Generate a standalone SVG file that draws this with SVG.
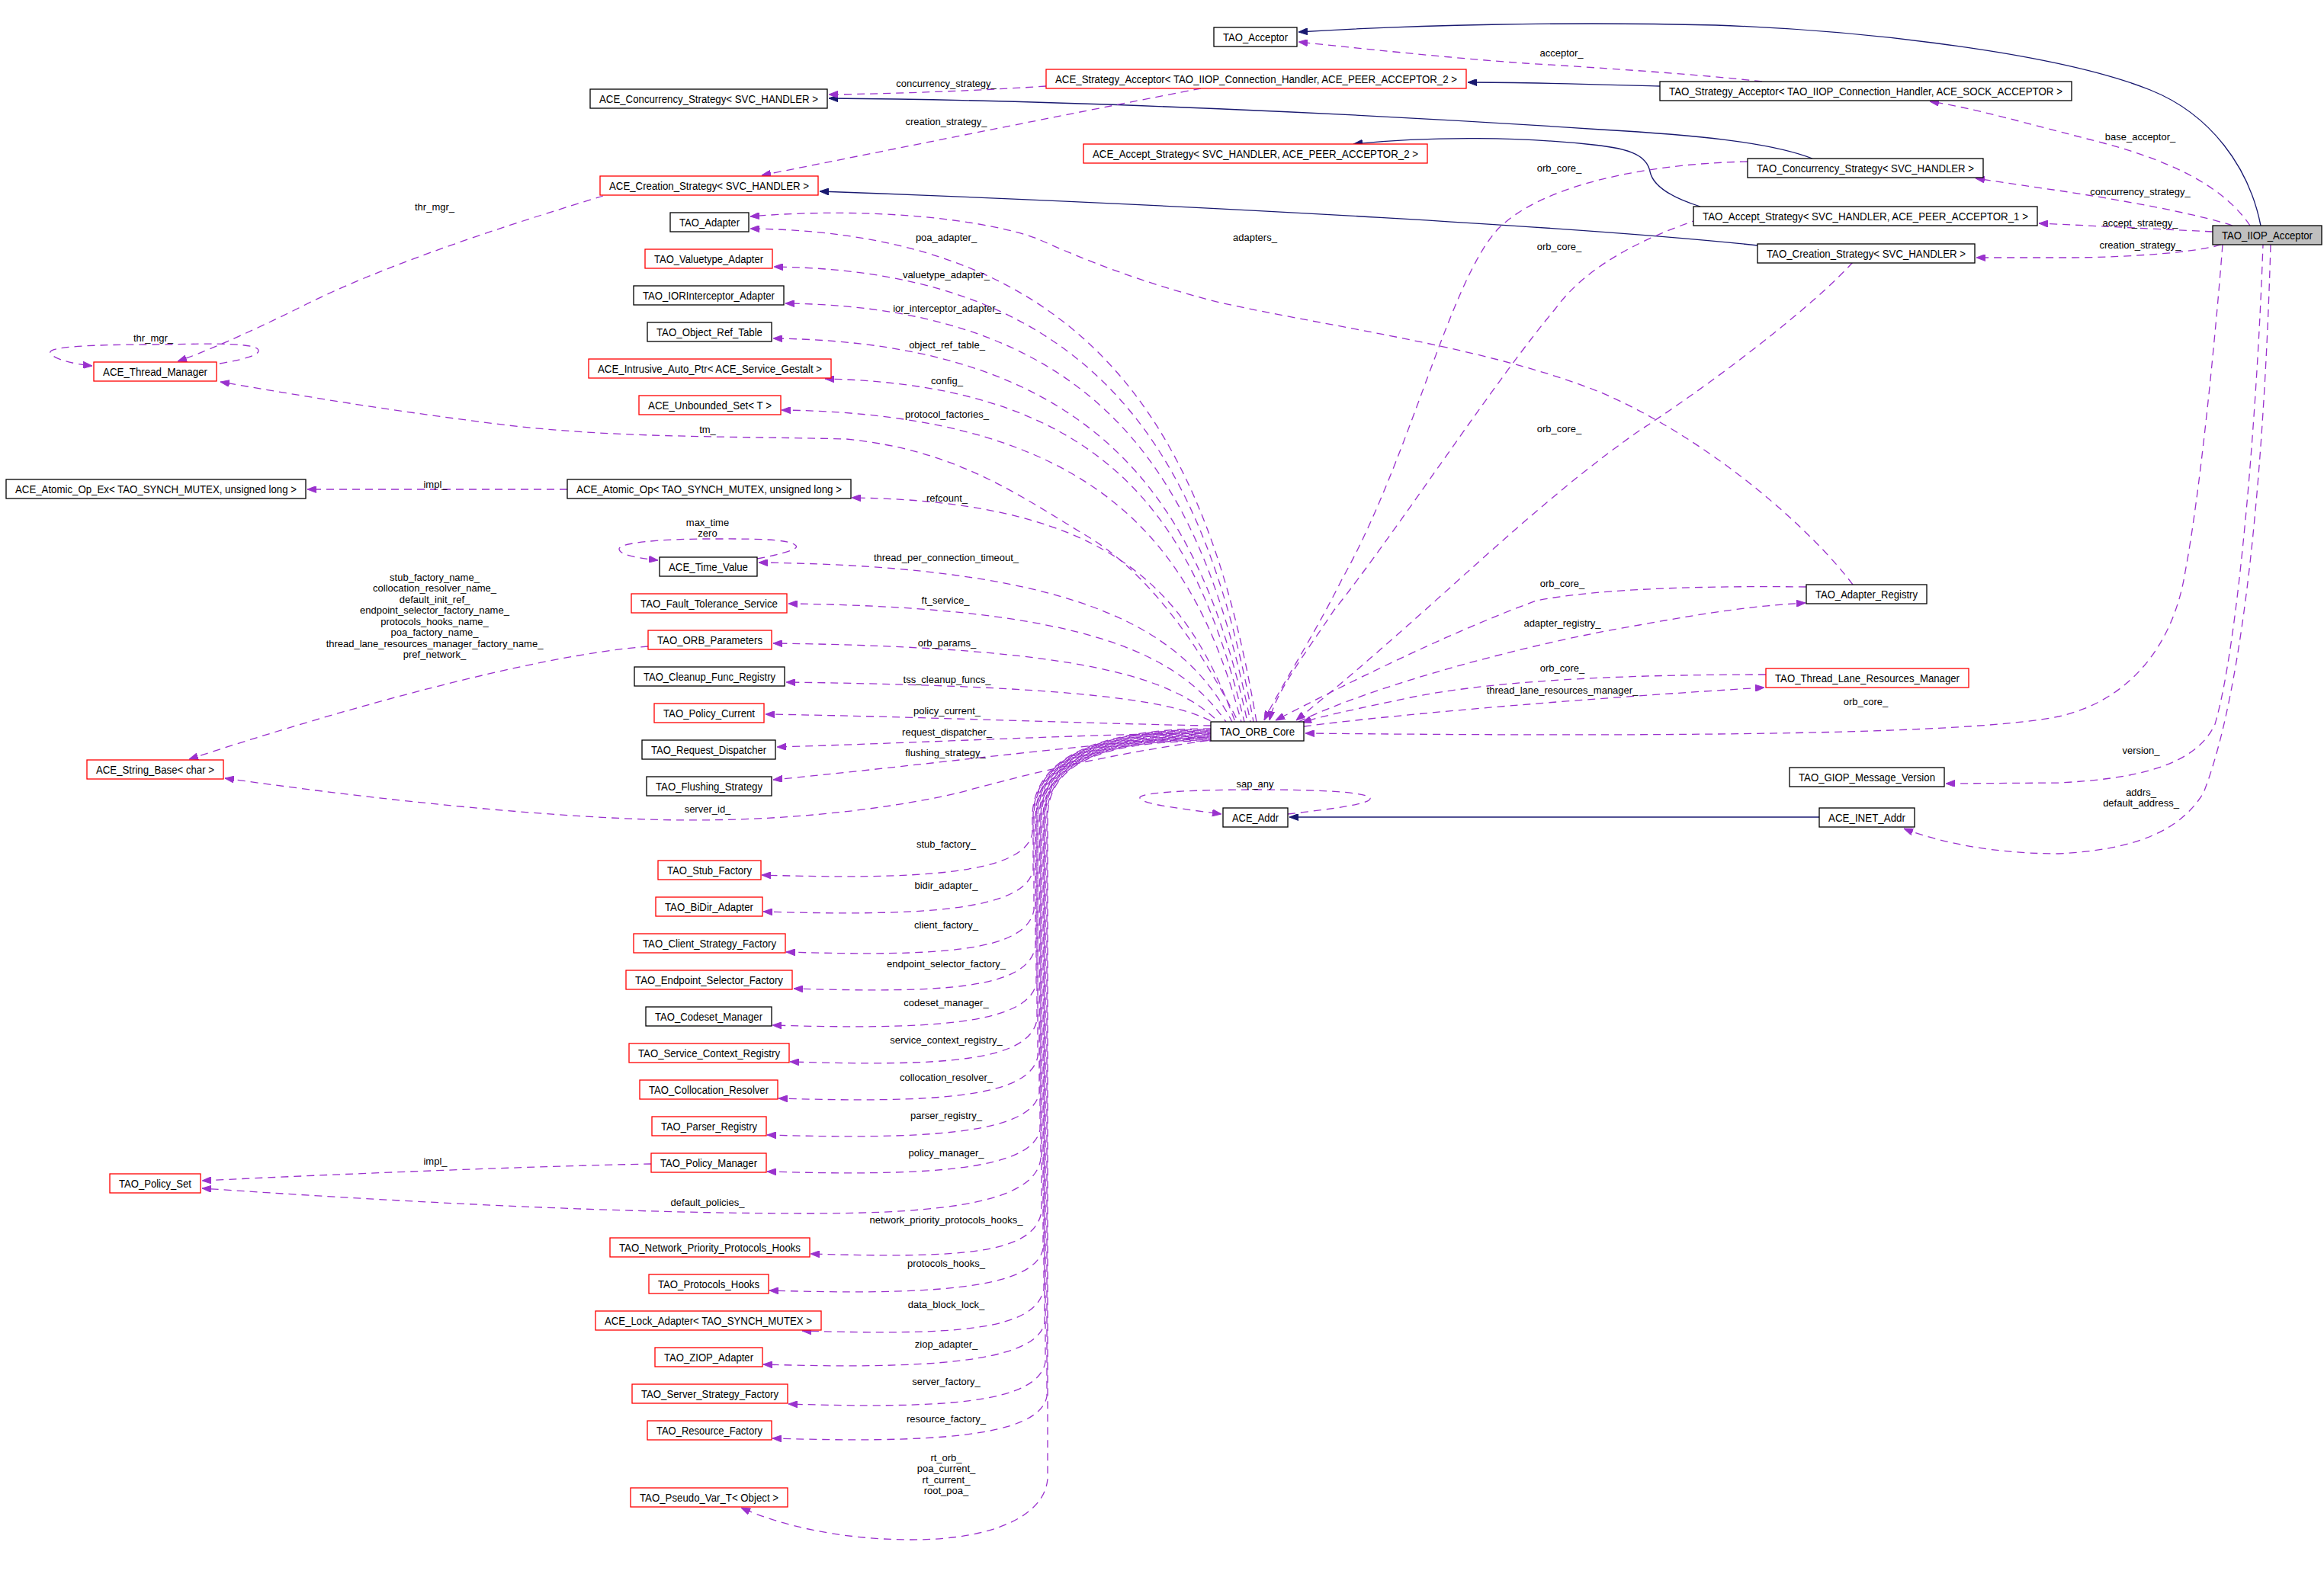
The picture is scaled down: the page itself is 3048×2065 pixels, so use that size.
<svg xmlns="http://www.w3.org/2000/svg" width="3048" height="2065" viewBox="0 0 3048 2065">
<style>
.bg{fill:#ffffff}
.nd rect{fill:#ffffff;stroke:#000000;stroke-width:1.3}
.nd.r rect{stroke:#ff0000}
.nd.g rect{fill:#bfbfbf}
.nd text{font-family:"Liberation Sans",Arial,sans-serif;font-size:14px;fill:#000000;text-anchor:middle}
.u{fill:none;stroke:#9a32cd;stroke-width:1.3;stroke-dasharray:10,7;marker-end:url(#ap)}
.h{fill:none;stroke:#191970;stroke-width:1.3;marker-end:url(#an)}
.l{font-family:"Liberation Sans",Arial,sans-serif;font-size:13px;fill:#000000;text-anchor:middle}
</style>
<defs>
<marker id="ap" markerUnits="userSpaceOnUse" markerWidth="12" markerHeight="9" refX="12" refY="4.5" orient="auto"><path d="M0,0 L12,4.5 L0,9 z" fill="#9a32cd" stroke="#9a32cd" stroke-width="1"/></marker>
<marker id="an" markerUnits="userSpaceOnUse" markerWidth="12" markerHeight="9" refX="12" refY="4.5" orient="auto"><path d="M0,0 L12,4.5 L0,9 z" fill="#191970" stroke="#191970" stroke-width="1"/></marker>
</defs>
<rect class="bg" x="0" y="0" width="3048" height="2065"/>
<g id="edges">
<path class="h" d="M2965,296 C2950,220 2900,150 2820,118 C2700,70 2450,40 2250,33 C2050,28 1850,33 1703,42"/>
<path class="h" d="M2177,113 C2100,111 2000,108 1925,108"/>
<path class="h" d="M2377,208 C2320,186 2220,177 2100,170 C1800,150 1400,131 1087,129"/>
<path class="h" d="M2230,271 C2195,260 2168,245 2164,225 C2160,205 2140,195 2090,190 C2000,180 1880,178 1775,189"/>
<path class="h" d="M2305,322 C2100,300 1600,270 1075,251"/>
<path class="h" d="M2386,1072 L1691,1072"/>
<path class="u" d="M2311,107 C2250,100 2150,92 2000,83 C1900,76 1780,63 1703,55"/>
<text class="l" x="2048" y="73.5">acceptor_</text>
<path class="u" d="M1372,113 C1300,118 1180,123 1087,124"/>
<text class="l" x="1241" y="113.5">concurrency_strategy_</text>
<path class="u" d="M1575,116 C1450,140 1200,190 999,230"/>
<text class="l" x="1241" y="163.5">creation_strategy_</text>
<path class="u" d="M2951,296 C2920,250 2860,215 2760,188 C2650,160 2590,142 2531,133"/>
<text class="l" x="2807" y="183.5">base_acceptor_</text>
<path class="u" d="M2928,296 C2880,280 2780,262 2700,250 C2650,243 2620,238 2591,234"/>
<text class="l" x="2807" y="255.5">concurrency_strategy_</text>
<path class="u" d="M2902,304 C2820,300 2740,296 2674,293"/>
<text class="l" x="2807" y="296.5">accept_strategy_</text>
<path class="u" d="M2913,321 C2880,331 2800,337 2720,338 L2592,338"/>
<text class="l" x="2807" y="325.5">creation_strategy_</text>
<path class="u" d="M2915,321 C2905,450 2885,650 2866,750 C2850,850 2790,920 2700,940 C2600,960 2300,968 1712,962"/>
<text class="l" x="2447" y="924.5">orb_core_</text>
<path class="u" d="M2968,321 C2960,550 2935,850 2905,950 C2880,1005 2800,1022 2700,1027 L2552,1028" style="stroke-dashoffset:5"/>
<text class="l" x="2808" y="988.5">version_</text>
<path class="u" d="M2978,321 C2970,600 2945,900 2890,1040 C2860,1090 2800,1115 2700,1120 C2600,1120 2530,1100 2497,1087"/>
<text class="l" x="2808" y="1043.5">addrs_</text>
<text class="l" x="2808" y="1057.5">default_address_</text>
<path class="u" d="M2292,212 C2150,215 2020,245 1965,300 C1900,370 1850,600 1760,760 C1720,840 1680,900 1658,945"/>
<text class="l" x="2045" y="224.5">orb_core_</text>
<path class="u" d="M2221,290 C2150,315 2080,350 2040,405 C1960,500 1830,700 1750,800 C1710,860 1672,910 1665,945" style="stroke-dashoffset:8"/>
<text class="l" x="2045" y="327.5">orb_core_</text>
<path class="u" d="M2430,344 C2380,400 2250,500 2150,565 C2000,670 1880,800 1700,945"/>
<text class="l" x="2045" y="566.5">orb_core_</text>
<path class="u" d="M2430,767 C2380,700 2250,580 2100,515 C1950,455 1750,430 1600,397 C1500,372 1420,340 1360,313 C1300,290 1150,270 984,284"/>
<text class="l" x="1646" y="315.5">adapters_</text>
<path class="u" d="M2369,770 C2200,768 2080,775 2015,788 C1900,830 1760,900 1673,945"/>
<text class="l" x="2049" y="769.5">orb_core_</text>
<path class="u" d="M1703,947 C1800,900 2000,845 2150,820 C2250,802 2300,795 2368,791"/>
<text class="l" x="2049" y="821.5">adapter_registry_</text>
<path class="u" d="M2316,885 C2100,885 1950,895 1850,915 C1780,930 1730,940 1708,948"/>
<text class="l" x="2049" y="880.5">orb_core_</text>
<path class="u" d="M1710,953 C1850,935 2100,915 2314,902"/>
<text class="l" x="2049" y="909.5">thread_lane_resources_manager_</text>
<path class="u" d="M791,257 C700,285 520,340 400,400 C320,440 260,465 233,474"/>
<text class="l" x="570" y="275.5">thr_mgr_</text>
<path class="u" d="M288,477 C330,470 345,463 337,457 C320,448 250,452 200,452 C120,452 62,455 66,463 C70,472 100,478 121,480"/>
<text class="l" x="201" y="448">thr_mgr_</text>
<path class="u" d="M744,642 L403,642"/>
<text class="l" x="571" y="639.5">impl_</text>
<path class="u" d="M993,733 C1030,726 1048,720 1044,716 C1035,706 980,707 928,707 C870,707 812,712 812,720 C812,728 835,732 863,735"/>
<text class="l" x="928" y="689.5">max_time</text>
<text class="l" x="928" y="703.5">zero</text>
<path class="u" d="M850,848 C700,860 450,930 248,996"/>
<text class="l" x="570" y="761.5">stub_factory_name_</text>
<text class="l" x="570" y="776">collocation_resolver_name_</text>
<text class="l" x="570" y="790.5">default_init_ref_</text>
<text class="l" x="570" y="805">endpoint_selector_factory_name_</text>
<text class="l" x="570" y="819.5">protocols_hooks_name_</text>
<text class="l" x="570" y="834">poa_factory_name_</text>
<text class="l" x="570" y="848.5">thread_lane_resources_manager_factory_name_</text>
<text class="l" x="570" y="863">pref_network_</text>
<path class="u" d="M1648,947 C1588,591 1449,305 984,300"/>
<text class="l" x="1241" y="316">poa_adapter_</text>
<path class="u" d="M1644,947 C1584,619 1455,355 1015,350" style="stroke-dashoffset:4"/>
<text class="l" x="1241" y="364.5">valuetype_adapter_</text>
<path class="u" d="M1640,947 C1580,645 1457,403 1030,398" style="stroke-dashoffset:8"/>
<text class="l" x="1242" y="408.5">ior_interceptor_adapter_</text>
<path class="u" d="M1636,947 C1576,670 1449,449 1014,444" style="stroke-dashoffset:12"/>
<text class="l" x="1242" y="456.5">object_ref_table_</text>
<path class="u" d="M1632,947 C1572,699 1466,505 1082,497" style="stroke-dashoffset:3"/>
<text class="l" x="1242" y="503.5">config_</text>
<path class="u" d="M1628,947 C1568,722 1447,543 1025,538" style="stroke-dashoffset:7"/>
<text class="l" x="1242" y="547.5">protocol_factories_</text>
<path class="u" d="M1624,947 C1570,840 1500,745 1420,700 C1330,645 1250,590 1110,576 C950,572 800,575 650,556 C500,537 400,520 289,501" style="stroke-dashoffset:11"/>
<text class="l" x="928" y="567.5">tm_</text>
<path class="u" d="M1620,947 C1560,785 1469,657 1117,653" style="stroke-dashoffset:15"/>
<text class="l" x="1242" y="657.5">refcount_</text>
<path class="u" d="M1616,947 C1556,832 1430,743 995,738" style="stroke-dashoffset:2"/>
<text class="l" x="1241" y="735.5">thread_per_connection_timeout_</text>
<path class="u" d="M1608,947 C1548,862 1436,797 1034,792" style="stroke-dashoffset:6"/>
<text class="l" x="1240" y="791.5">ft_service_</text>
<path class="u" d="M1598,947 C1540,890 1423,849 1014,844" style="stroke-dashoffset:10"/>
<text class="l" x="1242" y="847.5">orb_params_</text>
<path class="u" d="M1590,947 C1540,920 1422,900 1031,895" style="stroke-dashoffset:14"/>
<text class="l" x="1242" y="895.5">tss_cleanup_funcs_</text>
<path class="u" d="M1588,952 C1450,950 1200,940 1004,937"/>
<text class="l" x="1242" y="936.5">policy_current_</text>
<path class="u" d="M1588,962 C1450,962 1200,975 1019,980" style="stroke-dashoffset:5"/>
<text class="l" x="1242" y="964.5">request_dispatcher_</text>
<path class="u" d="M1588,967 C1450,972 1250,1000 1014,1023" style="stroke-dashoffset:9"/>
<text class="l" x="1240" y="991.5">flushing_strategy_</text>
<path class="u" d="M1588,971 C1450,990 1350,1015 1258,1040 C1150,1065 1000,1080 850,1075 C700,1070 500,1050 295,1021" style="stroke-dashoffset:13"/>
<text class="l" x="928" y="1065.5">server_id_</text>
<path class="u" d="M1588,956 C1450,956 1356,990 1354,1070 L1354,1093 C1344,1148 1199,1154 999,1148"/>
<text class="l" x="1241" y="1111.5">stub_factory_</text>
<path class="u" d="M1588,957 C1449,957 1357,991 1355,1070 L1355,1141 C1345,1196 1201,1202 1001,1196" style="stroke-dashoffset:9"/>
<text class="l" x="1241" y="1165.5">bidir_adapter_</text>
<path class="u" d="M1588,958 C1448,958 1358,992 1356,1070 L1356,1194 C1346,1249 1231,1255 1031,1249" style="stroke-dashoffset:4"/>
<text class="l" x="1241" y="1217.5">client_factory_</text>
<path class="u" d="M1588,959 C1447,959 1360,993 1358,1070 L1358,1242 C1348,1297 1241,1303 1041,1297" style="stroke-dashoffset:13"/>
<text class="l" x="1241" y="1268.5">endpoint_selector_factory_</text>
<path class="u" d="M1588,960 C1446,960 1361,994 1359,1070 L1359,1290 C1349,1345 1213,1351 1013,1345" style="stroke-dashoffset:2"/>
<text class="l" x="1241" y="1319.5">codeset_manager_</text>
<path class="u" d="M1588,961 C1445,961 1362,995 1360,1070 L1360,1338 C1350,1393 1236,1399 1036,1393" style="stroke-dashoffset:11"/>
<text class="l" x="1241" y="1368.5">service_context_registry_</text>
<path class="u" d="M1588,962 C1444,962 1363,996 1361,1070 L1361,1386 C1351,1441 1221,1447 1021,1441" style="stroke-dashoffset:6"/>
<text class="l" x="1241" y="1417.5">collocation_resolver_</text>
<path class="u" d="M1588,963 C1443,963 1365,997 1363,1070 L1363,1434 C1353,1489 1206,1495 1006,1489" style="stroke-dashoffset:15"/>
<text class="l" x="1241" y="1467.5">parser_registry_</text>
<path class="u" d="M1588,964 C1442,964 1366,998 1364,1070 L1364,1482 C1354,1537 1206,1543 1006,1537" style="stroke-dashoffset:1"/>
<text class="l" x="1241" y="1516.5">policy_manager_</text>
<path class="u" d="M1588,965 C1441,965 1367,999 1365,1070 L1365,1520 C1358,1575 1250,1592 1062,1592 C800,1592 500,1575 265,1559" style="stroke-dashoffset:10"/>
<text class="l" x="928" y="1581.5">default_policies_</text>
<path class="u" d="M854,1527 C700,1530 450,1540 265,1549"/>
<text class="l" x="571" y="1527.5">impl_</text>
<path class="u" d="M1588,966 C1440,966 1368,1000 1366,1070 L1366,1590 C1356,1645 1263,1651 1063,1645" style="stroke-dashoffset:5"/>
<text class="l" x="1241" y="1604.5">network_priority_protocols_hooks_</text>
<path class="u" d="M1588,967 C1439,967 1370,1001 1368,1070 L1368,1638 C1358,1693 1209,1699 1009,1693" style="stroke-dashoffset:14"/>
<text class="l" x="1241" y="1661.5">protocols_hooks_</text>
<path class="u" d="M1588,968 C1438,968 1371,1002 1369,1070 L1369,1691 C1359,1746 1252,1752 1052,1746" style="stroke-dashoffset:3"/>
<text class="l" x="1241" y="1715.5">data_block_lock_</text>
<path class="u" d="M1588,969 C1437,969 1372,1003 1370,1070 L1370,1735 C1360,1790 1201,1796 1001,1790" style="stroke-dashoffset:12"/>
<text class="l" x="1241" y="1767.5">ziop_adapter_</text>
<path class="u" d="M1588,970 C1436,970 1373,1004 1371,1070 L1371,1787 C1361,1842 1234,1848 1034,1842" style="stroke-dashoffset:7"/>
<text class="l" x="1241" y="1816.5">server_factory_</text>
<path class="u" d="M1588,971 C1435,971 1375,1005 1373,1070 L1373,1832 C1363,1887 1213,1893 1013,1887" style="stroke-dashoffset:16"/>
<text class="l" x="1241" y="1865.5">resource_factory_</text>
<path class="u" d="M1588,972 C1434,972 1376,1006 1374,1070 L1374,1940 C1370,1990 1300,2020 1196,2020 C1100,2020 1020,2000 972,1978" style="stroke-dashoffset:8"/>
<text class="l" x="1241" y="1916.5">rt_orb_</text>
<text class="l" x="1241" y="1931">poa_current_</text>
<text class="l" x="1241" y="1945.5">rt_current_</text>
<text class="l" x="1241" y="1960">root_poa_</text>
<path class="u" d="M1689,1068 C1740,1062 1800,1055 1797,1047 C1790,1037 1700,1036 1648,1036 C1560,1036 1492,1040 1495,1047 C1498,1056 1560,1062 1602,1068"/>
<text class="l" x="1646" y="1032.5">sap_any</text>
</g>
<g id="n1" class="nd"><rect x="1592" y="36" width="109" height="25"/><text x="1646.5" y="53.5" textLength="85" lengthAdjust="spacingAndGlyphs">TAO_Acceptor</text></g>
<g id="n2" class="nd r"><rect x="1372" y="91" width="551" height="25"/><text x="1647.5" y="108.5" textLength="527" lengthAdjust="spacingAndGlyphs">ACE_Strategy_Acceptor&lt; TAO_IIOP_Connection_Handler, ACE_PEER_ACCEPTOR_2 &gt;</text></g>
<g id="n3" class="nd"><rect x="2177" y="107" width="540" height="25"/><text x="2447" y="124.5" textLength="516" lengthAdjust="spacingAndGlyphs">TAO_Strategy_Acceptor&lt; TAO_IIOP_Connection_Handler, ACE_SOCK_ACCEPTOR &gt;</text></g>
<g id="n4" class="nd"><rect x="774" y="117" width="311" height="25"/><text x="929.5" y="134.5" textLength="287" lengthAdjust="spacingAndGlyphs">ACE_Concurrency_Strategy&lt; SVC_HANDLER &gt;</text></g>
<g id="n5" class="nd r"><rect x="1421" y="189" width="451" height="25"/><text x="1646.5" y="206.5" textLength="427" lengthAdjust="spacingAndGlyphs">ACE_Accept_Strategy&lt; SVC_HANDLER, ACE_PEER_ACCEPTOR_2 &gt;</text></g>
<g id="n6" class="nd"><rect x="2292" y="208" width="309" height="25"/><text x="2446.5" y="225.5" textLength="285" lengthAdjust="spacingAndGlyphs">TAO_Concurrency_Strategy&lt; SVC_HANDLER &gt;</text></g>
<g id="n7" class="nd r"><rect x="787" y="231" width="286" height="25"/><text x="930" y="248.5" textLength="262" lengthAdjust="spacingAndGlyphs">ACE_Creation_Strategy&lt; SVC_HANDLER &gt;</text></g>
<g id="n8" class="nd"><rect x="2221" y="271" width="451" height="25"/><text x="2446.5" y="288.5" textLength="427" lengthAdjust="spacingAndGlyphs">TAO_Accept_Strategy&lt; SVC_HANDLER, ACE_PEER_ACCEPTOR_1 &gt;</text></g>
<g id="n9" class="nd g"><rect x="2902" y="296" width="143" height="25"/><text x="2973.5" y="313.5" textLength="119" lengthAdjust="spacingAndGlyphs">TAO_IIOP_Acceptor</text></g>
<g id="n10" class="nd"><rect x="2305" y="320" width="285" height="25"/><text x="2447.5" y="337.5" textLength="261" lengthAdjust="spacingAndGlyphs">TAO_Creation_Strategy&lt; SVC_HANDLER &gt;</text></g>
<g id="n11" class="nd"><rect x="879" y="279" width="103" height="25"/><text x="930.5" y="296.5" textLength="79" lengthAdjust="spacingAndGlyphs">TAO_Adapter</text></g>
<g id="n12" class="nd r"><rect x="846" y="327" width="167" height="25"/><text x="929.5" y="344.5" textLength="143" lengthAdjust="spacingAndGlyphs">TAO_Valuetype_Adapter</text></g>
<g id="n13" class="nd"><rect x="831" y="375" width="197" height="25"/><text x="929.5" y="392.5" textLength="173" lengthAdjust="spacingAndGlyphs">TAO_IORInterceptor_Adapter</text></g>
<g id="n14" class="nd"><rect x="849" y="423" width="163" height="25"/><text x="930.5" y="440.5" textLength="139" lengthAdjust="spacingAndGlyphs">TAO_Object_Ref_Table</text></g>
<g id="n15" class="nd r"><rect x="772" y="471" width="318" height="25"/><text x="931" y="488.5" textLength="294" lengthAdjust="spacingAndGlyphs">ACE_Intrusive_Auto_Ptr&lt; ACE_Service_Gestalt &gt;</text></g>
<g id="n16" class="nd r"><rect x="838" y="519" width="186" height="25"/><text x="931" y="536.5" textLength="162" lengthAdjust="spacingAndGlyphs">ACE_Unbounded_Set&lt; T &gt;</text></g>
<g id="n17" class="nd r"><rect x="123" y="475" width="161" height="25"/><text x="203.5" y="492.5" textLength="137" lengthAdjust="spacingAndGlyphs">ACE_Thread_Manager</text></g>
<g id="n18" class="nd"><rect x="8" y="629" width="393" height="25"/><text x="204.5" y="646.5" textLength="369" lengthAdjust="spacingAndGlyphs">ACE_Atomic_Op_Ex&lt; TAO_SYNCH_MUTEX, unsigned long &gt;</text></g>
<g id="n19" class="nd"><rect x="744" y="629" width="372" height="25"/><text x="930" y="646.5" textLength="348" lengthAdjust="spacingAndGlyphs">ACE_Atomic_Op&lt; TAO_SYNCH_MUTEX, unsigned long &gt;</text></g>
<g id="n20" class="nd"><rect x="865" y="731" width="128" height="25"/><text x="929" y="748.5" textLength="104" lengthAdjust="spacingAndGlyphs">ACE_Time_Value</text></g>
<g id="n21" class="nd r"><rect x="828" y="779" width="204" height="25"/><text x="930" y="796.5" textLength="180" lengthAdjust="spacingAndGlyphs">TAO_Fault_Tolerance_Service</text></g>
<g id="n22" class="nd r"><rect x="850" y="827" width="162" height="25"/><text x="931" y="844.5" textLength="138" lengthAdjust="spacingAndGlyphs">TAO_ORB_Parameters</text></g>
<g id="n23" class="nd"><rect x="832" y="875" width="197" height="25"/><text x="930.5" y="892.5" textLength="173" lengthAdjust="spacingAndGlyphs">TAO_Cleanup_Func_Registry</text></g>
<g id="n24" class="nd r"><rect x="858" y="923" width="144" height="25"/><text x="930" y="940.5" textLength="120" lengthAdjust="spacingAndGlyphs">TAO_Policy_Current</text></g>
<g id="n25" class="nd"><rect x="842" y="971" width="175" height="25"/><text x="929.5" y="988.5" textLength="151" lengthAdjust="spacingAndGlyphs">TAO_Request_Dispatcher</text></g>
<g id="n26" class="nd"><rect x="848" y="1019" width="164" height="25"/><text x="930" y="1036.5" textLength="140" lengthAdjust="spacingAndGlyphs">TAO_Flushing_Strategy</text></g>
<g id="n27" class="nd r"><rect x="114" y="997" width="179" height="25"/><text x="203.5" y="1014.5" textLength="155" lengthAdjust="spacingAndGlyphs">ACE_String_Base&lt; char &gt;</text></g>
<g id="n28" class="nd"><rect x="1588" y="947" width="122" height="25"/><text x="1649" y="964.5" textLength="98" lengthAdjust="spacingAndGlyphs">TAO_ORB_Core</text></g>
<g id="n29" class="nd"><rect x="2369" y="767" width="158" height="25"/><text x="2448" y="784.5" textLength="134" lengthAdjust="spacingAndGlyphs">TAO_Adapter_Registry</text></g>
<g id="n30" class="nd r"><rect x="2316" y="877" width="266" height="25"/><text x="2449" y="894.5" textLength="242" lengthAdjust="spacingAndGlyphs">TAO_Thread_Lane_Resources_Manager</text></g>
<g id="n31" class="nd"><rect x="2347" y="1007" width="203" height="25"/><text x="2448.5" y="1024.5" textLength="179" lengthAdjust="spacingAndGlyphs">TAO_GIOP_Message_Version</text></g>
<g id="n32" class="nd"><rect x="1604" y="1060" width="85" height="25"/><text x="1646.5" y="1077.5" textLength="61" lengthAdjust="spacingAndGlyphs">ACE_Addr</text></g>
<g id="n33" class="nd"><rect x="2386" y="1060" width="125" height="25"/><text x="2448.5" y="1077.5" textLength="101" lengthAdjust="spacingAndGlyphs">ACE_INET_Addr</text></g>
<g id="n34" class="nd r"><rect x="863" y="1129" width="135" height="25"/><text x="930.5" y="1146.5" textLength="111" lengthAdjust="spacingAndGlyphs">TAO_Stub_Factory</text></g>
<g id="n35" class="nd r"><rect x="860" y="1177" width="140" height="25"/><text x="930" y="1194.5" textLength="116" lengthAdjust="spacingAndGlyphs">TAO_BiDir_Adapter</text></g>
<g id="n36" class="nd r"><rect x="831" y="1225" width="199" height="25"/><text x="930.5" y="1242.5" textLength="175" lengthAdjust="spacingAndGlyphs">TAO_Client_Strategy_Factory</text></g>
<g id="n37" class="nd r"><rect x="821" y="1273" width="218" height="25"/><text x="930" y="1290.5" textLength="194" lengthAdjust="spacingAndGlyphs">TAO_Endpoint_Selector_Factory</text></g>
<g id="n38" class="nd"><rect x="847" y="1321" width="165" height="25"/><text x="929.5" y="1338.5" textLength="141" lengthAdjust="spacingAndGlyphs">TAO_Codeset_Manager</text></g>
<g id="n39" class="nd r"><rect x="825" y="1369" width="210" height="25"/><text x="930" y="1386.5" textLength="186" lengthAdjust="spacingAndGlyphs">TAO_Service_Context_Registry</text></g>
<g id="n40" class="nd r"><rect x="839" y="1417" width="181" height="25"/><text x="929.5" y="1434.5" textLength="157" lengthAdjust="spacingAndGlyphs">TAO_Collocation_Resolver</text></g>
<g id="n41" class="nd r"><rect x="855" y="1465" width="150" height="25"/><text x="930" y="1482.5" textLength="126" lengthAdjust="spacingAndGlyphs">TAO_Parser_Registry</text></g>
<g id="n42" class="nd r"><rect x="854" y="1513" width="151" height="25"/><text x="929.5" y="1530.5" textLength="127" lengthAdjust="spacingAndGlyphs">TAO_Policy_Manager</text></g>
<g id="n43" class="nd r"><rect x="144" y="1540" width="119" height="25"/><text x="203.5" y="1557.5" textLength="95" lengthAdjust="spacingAndGlyphs">TAO_Policy_Set</text></g>
<g id="n44" class="nd r"><rect x="800" y="1624" width="262" height="25"/><text x="931" y="1641.5" textLength="238" lengthAdjust="spacingAndGlyphs">TAO_Network_Priority_Protocols_Hooks</text></g>
<g id="n45" class="nd r"><rect x="851" y="1672" width="157" height="25"/><text x="929.5" y="1689.5" textLength="133" lengthAdjust="spacingAndGlyphs">TAO_Protocols_Hooks</text></g>
<g id="n46" class="nd r"><rect x="781" y="1720" width="296" height="25"/><text x="929" y="1737.5" textLength="272" lengthAdjust="spacingAndGlyphs">ACE_Lock_Adapter&lt; TAO_SYNCH_MUTEX &gt;</text></g>
<g id="n47" class="nd r"><rect x="859" y="1768" width="141" height="25"/><text x="929.5" y="1785.5" textLength="117" lengthAdjust="spacingAndGlyphs">TAO_ZIOP_Adapter</text></g>
<g id="n48" class="nd r"><rect x="829" y="1816" width="204" height="25"/><text x="931" y="1833.5" textLength="180" lengthAdjust="spacingAndGlyphs">TAO_Server_Strategy_Factory</text></g>
<g id="n49" class="nd r"><rect x="849" y="1864" width="163" height="25"/><text x="930.5" y="1881.5" textLength="139" lengthAdjust="spacingAndGlyphs">TAO_Resource_Factory</text></g>
<g id="n50" class="nd r"><rect x="827" y="1952" width="206" height="25"/><text x="930" y="1969.5" textLength="182" lengthAdjust="spacingAndGlyphs">TAO_Pseudo_Var_T&lt; Object &gt;</text></g>
</svg>
